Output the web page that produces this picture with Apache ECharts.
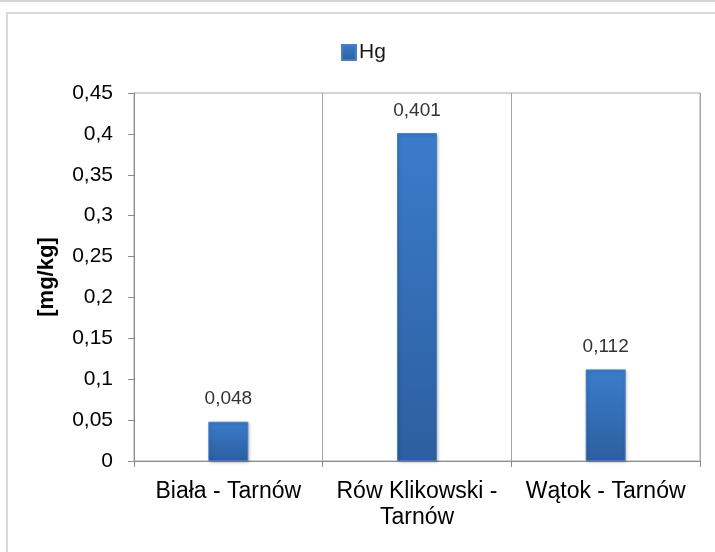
<!DOCTYPE html>
<html>
<head>
<meta charset="utf-8">
<script src="https://cdn.jsdelivr.net/npm/echarts@6/dist/echarts.min.js"></script>
<style>
  html, body { margin: 0; padding: 0; background: #ffffff; }
  #chart { width: 715px; height: 552px; }
</style>
</head>
<body>
<div id="chart"></div>
<script>
// Mercury content at three sampling sites
const categories = ['Biała - Tarnów', 'Rów Klikowski -\nTarnów', 'Wątok - Tarnów'];
const hgValues = [0.048, 0.401, 0.112];
const seriesName = 'Hg';
const unitLabel = '[mg/kg]';

const fmtComma = v => String(v).replace('.', ',');

const chart = echarts.init(document.getElementById('chart'), null, { renderer: 'canvas' });

chart.setOption({
  animation: false,
  backgroundColor: '#ffffff',
  graphic: [
    { type: 'line', shape: { x1: 0, y1: 1, x2: 715, y2: 1 }, style: { stroke: '#d4d4d4', lineWidth: 2 }, z: -1 },
    { type: 'rect', shape: { x: 7, y: 13, width: 760, height: 600 }, style: { fill: 'none', stroke: '#d9d9d9', lineWidth: 2 }, z: -1 }
  ],
  legend: {
    data: [seriesName],
    top: 37,
    left: 336,
    itemWidth: 14,
    itemHeight: 15,
    itemGap: 4,
    icon: 'rect',
    textStyle: { fontFamily: 'Liberation Sans Narrow, Liberation Sans', fontSize: 21, color: '#1a1a1a', padding: [0, 0, 0, -2] }
  },
  grid: {
    left: 134,
    right: 15,
    top: 93,
    bottom: 91,
    show: true,
    borderColor: '#a6a6a6',
    borderWidth: 1
  },
  xAxis: {
    type: 'category',
    data: categories,
    axisLine: { lineStyle: { color: '#8c8c8c' } },
    axisTick: { show: true, length: 6, alignWithLabel: false, lineStyle: { color: '#8c8c8c' } },
    splitLine: { show: true, lineStyle: { color: '#a6a6a6', width: 1 } },
    axisLabel: {
      interval: 0,
      margin: 18,
      fontFamily: 'Liberation Sans',
      fontSize: 23,
      color: '#000000',
      lineHeight: 26
    }
  },
  yAxis: {
    type: 'value',
    min: 0,
    max: 0.45,
    interval: 0.05,
    name: unitLabel,
    nameLocation: 'middle',
    nameGap: 76,
    nameRotate: 90,
    nameTextStyle: { fontFamily: 'Liberation Sans', fontSize: 22, fontWeight: 'bold', color: '#000000' },
    axisLine: { show: true, lineStyle: { color: '#8c8c8c' } },
    axisTick: { show: true, length: 6, lineStyle: { color: '#8c8c8c' } },
    splitLine: { show: false },
    axisLabel: {
      margin: 21,
      fontFamily: 'Liberation Sans',
      fontSize: 21,
      color: '#000000',
      formatter: v => fmtComma(Math.round(v * 100) / 100)
    }
  },
  series: [{
    name: seriesName,
    type: 'bar',
    data: hgValues,
    barWidth: 40,
    itemStyle: {
      color: new echarts.graphic.LinearGradient(0, 0, 0, 1, [
        { offset: 0, color: '#3b7ccb' },
        { offset: 1, color: '#2c5f9f' }
      ]),
      borderColor: '#4a80c0',
      borderWidth: 1,
      shadowColor: 'rgba(0,0,0,0.25)',
      shadowBlur: 3,
      shadowOffsetX: 1,
      shadowOffsetY: 1
    },
    label: {
      show: true,
      position: 'top',
      distance: 13,
      fontFamily: 'Liberation Sans',
      fontSize: 19,
      color: '#333333',
      formatter: p => fmtComma(p.value)
    }
  }]
});
</script>
</body>
</html>
